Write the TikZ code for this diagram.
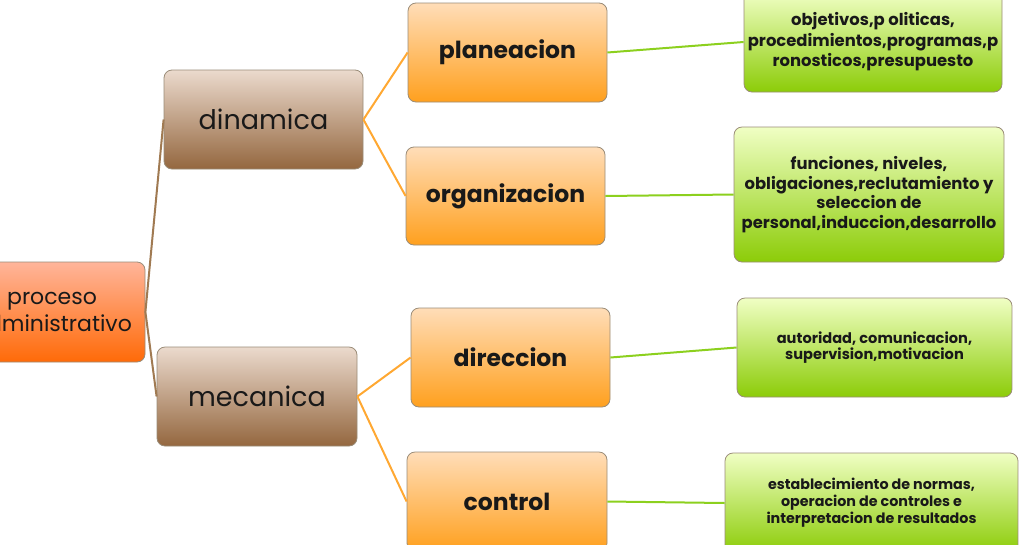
\documentclass[tikz,border=0pt]{standalone}
\usepackage{fontspec}
\setmainfont{Poppins}
\definecolor{borde}{HTML}{9A8C78}
\definecolor{rojoA}{HTML}{FFB59A}
\definecolor{rojoB}{HTML}{FF6A08}
\definecolor{cafeA}{HTML}{EBDACD}
\definecolor{cafeB}{HTML}{94673F}
\definecolor{naranjaA}{HTML}{FFDDB8}
\definecolor{naranjaB}{HTML}{FFA01E}
\definecolor{verdeA}{HTML}{F0FFC4}
\definecolor{verdeB}{HTML}{8CCC08}
\definecolor{lineacafe}{HTML}{A07A52}
\definecolor{lineanaranja}{HTML}{FFA832}
\definecolor{lineaverde}{HTML}{8CD01E}
\begin{document}
\begin{tikzpicture}[x=1pt,y=-1pt,
  caja/.style={draw=borde, line width=0.8pt, rounded corners=8pt, inner sep=0pt, align=center, text=black!90},
  raiz/.style={caja, top color=rojoA, bottom color=rojoB, font=\fontsize{22}{27}\selectfont},
  nivel/.style={caja, top color=cafeA, bottom color=cafeB, font=\fontsize{27}{30}\selectfont},
  etapa/.style={caja, top color=naranjaA, bottom color=naranjaB, font=\fontsize{23.5}{27}\selectfont\bfseries},
  detalle/.style={caja, top color=verdeA, bottom color=verdeB, font=\bfseries},
  rama/.style={line width=2pt}]
\clip (0,0) rectangle (1024,544);
% Raiz
\node[raiz, minimum width=186pt, minimum height=100pt] (proceso) at (52,312) {proceso\\administrativo};
% Dinamica y mecanica
\node[nivel, minimum width=199pt, minimum height=99pt] (dinamica) at (263.5,119.5) {dinamica};
\node[nivel, minimum width=200pt, minimum height=99pt] (mecanica) at (257,396.5) {mecanica};
% Etapas
\node[etapa, minimum width=199pt, minimum height=99pt] (planeacion) at (507.5,52.5) {planeacion};
\node[etapa, minimum width=199pt, minimum height=98pt] (organizacion) at (505.5,196) {organizacion};
\node[etapa, minimum width=199pt, minimum height=99pt] (direccion) at (510.5,357.5) {direccion};
\node[etapa, minimum width=200pt, minimum height=99pt] (control) at (507,501.5) {control};
% Detalles
\node[detalle, minimum width=258pt, minimum height=100pt, font=\fontsize{16.4}{20.5}\selectfont\bfseries] (detplan) at (873,42)
  {objetivos,p oliticas,\\procedimientos,programas,p\\ronosticos,presupuesto};
\node[detalle, minimum width=270pt, minimum height=135pt, font=\fontsize{16.4}{19.5}\selectfont\bfseries] (detorg) at (869,194.5)
  {funciones, niveles,\\obligaciones,reclutamiento y\\seleccion de\\personal,induccion,desarrollo};
\node[detalle, minimum width=275pt, minimum height=99pt, font=\fontsize{14.6}{16.5}\selectfont\bfseries] (detdir) at (874.5,347.5)
  {autoridad, comunicacion,\\supervision,motivacion};
\node[detalle, minimum width=293pt, minimum height=100pt, font=\fontsize{14.3}{17}\selectfont\bfseries] (detcon) at (871.5,503)
  {establecimiento de normas,\\operacion de controles e\\interpretacion de resultados};
% Ramas
\draw[rama, lineacafe] (proceso.east) -- (dinamica.west);
\draw[rama, lineacafe] (proceso.east) -- (mecanica.west);
\draw[rama, lineanaranja] (dinamica.east) -- (planeacion.west);
\draw[rama, lineanaranja] (dinamica.east) -- (organizacion.west);
\draw[rama, lineanaranja] (mecanica.east) -- (direccion.west);
\draw[rama, lineanaranja] (mecanica.east) -- (control.west);
\draw[rama, lineaverde] (planeacion.east) -- (detplan.west);
\draw[rama, lineaverde] (organizacion.east) -- (detorg.west);
\draw[rama, lineaverde] (direccion.east) -- (detdir.west);
\draw[rama, lineaverde] (control.east) -- (detcon.west);
\end{tikzpicture}
\end{document}
